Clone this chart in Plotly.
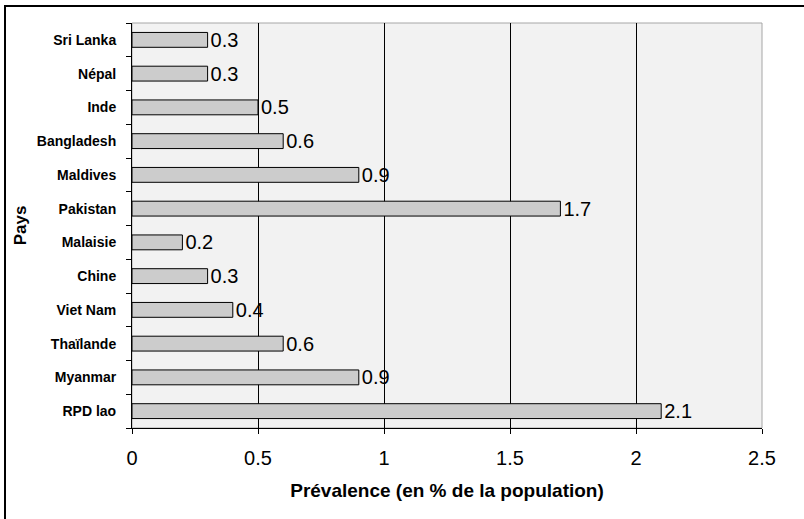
import plotly.graph_objects as go

countries = ["RPD lao", "Myanmar", "Thaïlande", "Viet Nam", "Chine", "Malaisie",
             "Pakistan", "Maldives", "Bangladesh", "Inde", "Népal", "Sri Lanka"]
values = [2.1, 0.9, 0.6, 0.4, 0.3, 0.2, 1.7, 0.9, 0.6, 0.5, 0.3, 0.3]
x_ticks = [0, 0.5, 1, 1.5, 2, 2.5]
x_tick_text = ["0", "0.5", "1", "1.5", "2", "2.5"]

W, H = 804, 519
L, T = 132, 23
pw, ph = 630, 405
R, B = W - L - pw, H - T - ph

fig = go.Figure(go.Bar(
    x=values, y=countries, orientation="h",
    marker=dict(color="#cccccc", line=dict(color="black", width=1)),
    width=0.44,
    text=[str(v) for v in values], textposition="outside",
    constraintext="none",
    textfont=dict(family="Liberation Sans, Arial", size=20, color="black"),
    cliponaxis=False,
))

fig.update_layout(
    width=W, height=H,
    margin=dict(l=L, r=R, t=T, b=B, pad=0),
    paper_bgcolor="white", plot_bgcolor="#f2f2f2",
    font=dict(family="Liberation Sans, Arial", color="black"),
    showlegend=False,
    xaxis=dict(
        range=[0, 2.5], tickvals=x_ticks, ticktext=x_tick_text,
        showgrid=True, gridcolor="black", gridwidth=1,
        zeroline=False, showline=True, linecolor="black", linewidth=1,
        ticks="outside", ticklen=5, tickcolor="black",
        tickfont=dict(size=20), ticklabelstandoff=7,
        title=dict(text="<b>Prévalence (en % de la population)</b>",
                   font=dict(size=19), standoff=15),
    ),
    yaxis=dict(
        type="category", categoryorder="array", categoryarray=countries,
        range=[-0.5, len(countries) - 0.5],
        showgrid=False, zeroline=False, showline=True, linecolor="black", linewidth=1,
        ticks="outside", ticklen=5, tickcolor="black", tickson="boundaries",
        tickfont=dict(size=14, weight="bold"), ticklabelstandoff=12,
        title=dict(text="<b>Pays</b>", font=dict(size=17), standoff=5),
    ),
    shapes=[
        dict(type="rect", xref="paper", yref="paper", x0=0, x1=1, y0=0, y1=1,
             line=dict(color="#a6a6a6", width=1), layer="below"),
        dict(type="rect", xref="paper", yref="paper",
             x0=(5 - L) / pw, x1=(W + 10 - L) / pw,
             y0=-(H + 10 - T - ph) / ph, y1=1 + (T - 6) / ph,
             line=dict(color="black", width=2), layer="above"),
    ],
)

fig.write_html("out.html", config={"displayModeBar": False},
               post_script="document.body.style.margin='0';document.body.style.overflow='hidden';")
